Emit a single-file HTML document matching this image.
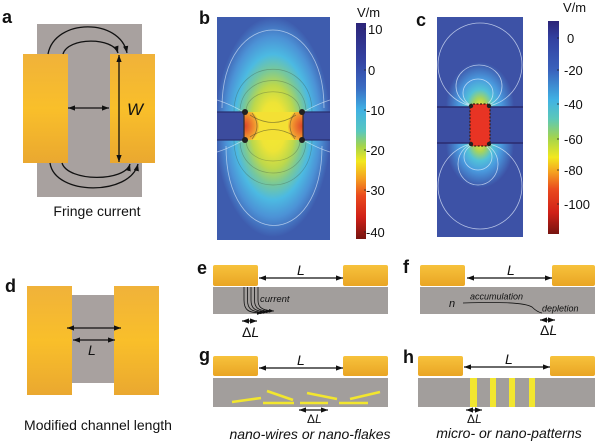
<!DOCTYPE html>
<html>
<head>
<meta charset="utf-8">
<style>
html,body{margin:0;padding:0;background:#fff;}
svg{display:block;}
text{font-family:"Liberation Sans",Arial,sans-serif;}
.lbl{font-weight:bold;font-size:18px;fill:#111;}
.tk{font-size:13px;fill:#111;}
.it{font-style:italic;fill:#111;}
</style>
</head>
<body>
<svg width="600" height="444" viewBox="0 0 600 444" xmlns="http://www.w3.org/2000/svg">
<defs>
  <linearGradient id="gold" x1="0" y1="0" x2="0" y2="1">
    <stop offset="0" stop-color="#f0b23a"/>
    <stop offset="0.5" stop-color="#f9bf2a"/>
    <stop offset="1" stop-color="#eaa830"/>
  </linearGradient>
  <linearGradient id="goldS" x1="0" y1="0" x2="0" y2="1">
    <stop offset="0" stop-color="#f7c23c"/>
    <stop offset="1" stop-color="#e9a524"/>
  </linearGradient>
  <marker id="ah" viewBox="0 0 8 6" refX="8" refY="3" markerWidth="7" markerHeight="5.5" markerUnits="userSpaceOnUse" orient="auto-start-reverse">
    <path d="M0,0 L8,3 L0,6 z" fill="#111"/>
  </marker>
  <marker id="ahs" viewBox="0 0 8 6" refX="8" refY="3" markerWidth="5" markerHeight="4" markerUnits="userSpaceOnUse" orient="auto">
    <path d="M0,0 L8,3 L0,6 z" fill="#111"/>
  </marker>
  <radialGradient id="fieldB" cx="0.5" cy="0.5" r="0.5">
    <stop offset="0" stop-color="#f6ea30"/>
    <stop offset="0.22" stop-color="#eee436"/>
    <stop offset="0.38" stop-color="#bcd84c"/>
    <stop offset="0.52" stop-color="#78c89a"/>
    <stop offset="0.66" stop-color="#4cbae2"/>
    <stop offset="0.82" stop-color="#4c92d6"/>
    <stop offset="1" stop-color="#3e5cae"/>
  </radialGradient>
  <radialGradient id="edgeB" cx="0.5" cy="0.5" r="0.5">
    <stop offset="0" stop-color="#d8402a"/>
    <stop offset="0.5" stop-color="#ec7a2c"/>
    <stop offset="0.85" stop-color="#f4a832"/>
    <stop offset="1" stop-color="#f4c834"/>
  </radialGradient>
  <radialGradient id="lobeC" cx="0.5" cy="0.5" r="0.5">
    <stop offset="0" stop-color="#f2e03a"/>
    <stop offset="0.18" stop-color="#a8d45a"/>
    <stop offset="0.38" stop-color="#52c2d8"/>
    <stop offset="0.62" stop-color="#4a9ade"/>
    <stop offset="1" stop-color="#3d52a6"/>
  </radialGradient>
  <linearGradient id="cbB" x1="0" y1="0" x2="0" y2="1">
    <stop offset="0" stop-color="#2c2478"/>
    <stop offset="0.18" stop-color="#3444a4"/>
    <stop offset="0.3" stop-color="#3a6cc2"/>
    <stop offset="0.4" stop-color="#40b0e4"/>
    <stop offset="0.5" stop-color="#58c8c0"/>
    <stop offset="0.57" stop-color="#a4d44c"/>
    <stop offset="0.64" stop-color="#f2e81e"/>
    <stop offset="0.72" stop-color="#f5a020"/>
    <stop offset="0.8" stop-color="#ea4a1e"/>
    <stop offset="0.9" stop-color="#d02018"/>
    <stop offset="1" stop-color="#761410"/>
  </linearGradient>
  <linearGradient id="cbC" x1="0" y1="0" x2="0" y2="1">
    <stop offset="0" stop-color="#2c2478"/>
    <stop offset="0.08" stop-color="#3240a0"/>
    <stop offset="0.23" stop-color="#3a62bc"/>
    <stop offset="0.37" stop-color="#40b2e4"/>
    <stop offset="0.46" stop-color="#5cc8b8"/>
    <stop offset="0.55" stop-color="#a4d44c"/>
    <stop offset="0.64" stop-color="#f2e81e"/>
    <stop offset="0.71" stop-color="#f5a020"/>
    <stop offset="0.79" stop-color="#ea4a1e"/>
    <stop offset="0.9" stop-color="#d02018"/>
    <stop offset="1" stop-color="#761410"/>
  </linearGradient>
  <clipPath id="clipB"><rect x="217" y="17" width="113" height="223"/></clipPath>
  <clipPath id="clipBch"><rect x="244" y="112" width="59" height="28"/></clipPath>
  <clipPath id="clipC"><rect x="437" y="17" width="86" height="220"/></clipPath>
  <clipPath id="clipCt"><rect x="437" y="17" width="86" height="90"/></clipPath>
  <clipPath id="clipCb"><rect x="437" y="143" width="86" height="94"/></clipPath>
</defs>

<!-- ============ Panel a ============ -->
<text class="lbl" x="2" y="23">a</text>
<rect x="37" y="24" width="105" height="173" fill="#a8a19f"/>
<rect x="23" y="54" width="45" height="109" fill="url(#gold)"/>
<rect x="110" y="54" width="45" height="109" fill="url(#gold)"/>
<g fill="none" stroke="#111" stroke-width="1.3">
  <path d="M48,54 C55,18 120,18 127,53" marker-end="url(#ah)"/>
  <path d="M63,54 C68,37 113,37 118,53" marker-end="url(#ah)"/>
  <path d="M50,163 C55,196 130,196 138,164" marker-end="url(#ah)"/>
  <path d="M62,163 C68,182 125,182 130,164" marker-end="url(#ah)"/>
  <line x1="68" y1="108" x2="109" y2="108" marker-start="url(#ah)" marker-end="url(#ah)"/>
  <line x1="119" y1="55" x2="119" y2="162" marker-start="url(#ah)" marker-end="url(#ah)"/>
</g>
<text class="it" x="127" y="115" font-size="17">W</text>
<text x="97" y="216" font-size="14" text-anchor="middle" fill="#111">Fringe current</text>

<!-- ============ Panel b ============ -->
<text class="lbl" x="199" y="24">b</text>
<g clip-path="url(#clipB)">
  <rect x="217" y="17" width="113" height="223" fill="#3e5cae"/>
  <ellipse cx="273" cy="127" rx="58" ry="110" fill="url(#fieldB)"/>
  <g fill="none" stroke="rgba(60,80,60,0.35)" stroke-width="0.7">
    <path d="M240,112 C240,70 306,70 306,112"/>
    <path d="M234,112 C234,55 312,55 312,112"/>
    <path d="M246,112 C246,85 300,85 300,112"/>
    <path d="M240,140 C240,184 306,184 306,140"/>
    <path d="M234,140 C234,200 312,200 312,140"/>
    <path d="M246,140 C246,168 300,168 300,140"/>
  </g>
  <g fill="none" stroke="rgba(235,245,255,0.6)" stroke-width="0.8">
    <path d="M222,108 C222,4 324,4 324,108"/>
    <path d="M226,146 C226,252 322,252 322,146"/>
    <path d="M217,100 C230,104 236,108 244,112"/>
    <path d="M330,100 C317,104 311,108 303,112"/>
    <path d="M217,152 C230,148 236,144 244,140"/>
    <path d="M330,152 C317,148 311,144 303,140"/>
  </g>
  <rect x="217" y="112" width="27" height="28" fill="#3c4c9e"/>
  <rect x="303" y="112" width="27" height="28" fill="#3c4c9e"/>
  <line x1="217" y1="112" x2="244" y2="112" stroke="#2a3070" stroke-width="1.2"/>
  <line x1="217" y1="140" x2="244" y2="140" stroke="#2a3070" stroke-width="1.2"/>
  <line x1="303" y1="112" x2="330" y2="112" stroke="#2a3070" stroke-width="1.2"/>
  <line x1="303" y1="140" x2="330" y2="140" stroke="#2a3070" stroke-width="1.2"/>
  <g clip-path="url(#clipBch)">
    <rect x="244" y="112" width="59" height="28" fill="#f4e034"/>
    <ellipse cx="244" cy="126" rx="15" ry="17" fill="url(#edgeB)"/>
    <ellipse cx="303" cy="126" rx="15" ry="17" fill="url(#edgeB)"/>
  </g>
  <g fill="none" stroke="rgba(70,70,40,0.55)" stroke-width="0.8">
    <path d="M250,115 Q273,130 296,115"/>
    <path d="M250,137 Q273,122 296,137"/>
    <path d="M252,113 Q262,126 252,139"/>
    <path d="M295,113 Q285,126 295,139"/>
  </g>
  <line x1="244" y1="112" x2="244" y2="140" stroke="#3a2a20" stroke-width="1.2"/>
  <line x1="303" y1="112" x2="303" y2="140" stroke="#3a2a20" stroke-width="1.2"/>
  <g fill="#222">
    <circle cx="245" cy="112" r="3"/><circle cx="245" cy="140" r="3"/>
    <circle cx="302" cy="112" r="3"/><circle cx="302" cy="140" r="3"/>
  </g>
</g>
<text x="357" y="17" font-size="13" fill="#111">V/m</text>
<rect x="356" y="23" width="10" height="216" fill="url(#cbB)"/>
<g stroke="#222" stroke-width="0.8">
  <line x1="364" y1="29" x2="366" y2="29"/><line x1="364" y1="70" x2="366" y2="70"/>
  <line x1="364" y1="110" x2="366" y2="110"/><line x1="364" y1="150" x2="366" y2="150"/>
  <line x1="364" y1="190" x2="366" y2="190"/><line x1="364" y1="232" x2="366" y2="232"/>
</g>
<g class="tk">
  <text x="368" y="34">10</text>
  <text x="368" y="75">0</text>
  <text x="366" y="115">-10</text>
  <text x="366" y="155">-20</text>
  <text x="366" y="195">-30</text>
  <text x="366" y="237">-40</text>
</g>

<!-- ============ Panel c ============ -->
<text class="lbl" x="416" y="26">c</text>
<g clip-path="url(#clipC)">
  <rect x="437" y="17" width="86" height="220" fill="#3d52a6"/>
  <g clip-path="url(#clipCt)">
    <ellipse cx="480" cy="106" rx="34" ry="44" fill="url(#lobeC)"/>
  </g>
  <g clip-path="url(#clipCb)">
    <ellipse cx="480" cy="144" rx="34" ry="44" fill="url(#lobeC)"/>
  </g>
  <rect x="437" y="107" width="86" height="36" fill="#3c4ea2"/>
  <line x1="437" y1="107" x2="523" y2="107" stroke="#2a2a6e" stroke-width="1.5"/>
  <line x1="437" y1="143" x2="523" y2="143" stroke="#2a2a6e" stroke-width="1.5"/>
  <g fill="none" stroke="rgba(230,240,255,0.7)" stroke-width="0.8">
    <ellipse cx="480" cy="65" rx="42" ry="42"/>
    <ellipse cx="479" cy="86" rx="23" ry="21"/>
    <ellipse cx="478" cy="93" rx="15" ry="14"/>
    <ellipse cx="480" cy="186" rx="42" ry="43"/>
    <ellipse cx="478" cy="164" rx="20" ry="21"/>
    <ellipse cx="478" cy="157" rx="14" ry="13"/>
  </g>
  <rect x="470" y="104" width="20" height="42" rx="3" fill="#e83424" stroke="#3a1a14" stroke-width="1.2" stroke-dasharray="2 1.5"/>
  <g fill="#222">
    <circle cx="471" cy="106" r="2.2"/><circle cx="489" cy="106" r="2.2"/>
    <circle cx="471" cy="144" r="2.2"/><circle cx="489" cy="144" r="2.2"/>
  </g>
</g>
<text x="563" y="12" font-size="13" fill="#111">V/m</text>
<rect x="548" y="21" width="11" height="213" fill="url(#cbC)"/>
<g stroke="#222" stroke-width="0.8">
  <line x1="557" y1="38" x2="559" y2="38"/><line x1="557" y1="70" x2="559" y2="70"/>
  <line x1="557" y1="104" x2="559" y2="104"/><line x1="557" y1="139" x2="559" y2="139"/>
  <line x1="557" y1="170" x2="559" y2="170"/><line x1="557" y1="204" x2="559" y2="204"/>
</g>
<g class="tk">
  <text x="567" y="43">0</text>
  <text x="564" y="75">-20</text>
  <text x="564" y="109">-40</text>
  <text x="564" y="144">-60</text>
  <text x="564" y="175">-80</text>
  <text x="564" y="209">-100</text>
</g>

<!-- ============ Panel d ============ -->
<text class="lbl" x="5" y="292">d</text>
<rect x="72" y="295" width="42" height="88" fill="#a8a19f"/>
<rect x="27" y="286" width="45" height="109" fill="url(#gold)"/>
<rect x="114" y="286" width="45" height="109" fill="url(#gold)"/>
<g fill="none" stroke="#111" stroke-width="1.3">
  <line x1="67" y1="328" x2="121" y2="328" marker-start="url(#ah)" marker-end="url(#ah)"/>
  <line x1="73" y1="340" x2="115" y2="340" marker-start="url(#ah)" marker-end="url(#ah)"/>
</g>
<text class="it" x="88" y="355" font-size="14">L</text>
<text x="98" y="430" font-size="14" text-anchor="middle" fill="#111">Modified channel length</text>

<!-- ============ Panel e ============ -->
<text class="lbl" x="197" y="274">e</text>
<rect x="213" y="265" width="45" height="21" rx="2" fill="url(#goldS)"/>
<rect x="343" y="265" width="45" height="21" rx="2" fill="url(#goldS)"/>
<rect x="213" y="287" width="175" height="27" fill="#a29e9c"/>
<line x1="259" y1="278" x2="343" y2="278" stroke="#111" stroke-width="1.2" marker-start="url(#ah)" marker-end="url(#ah)"/>
<text class="it" x="297" y="275" font-size="14">L</text>
<g fill="none" stroke="#111" stroke-width="0.8">
  <path d="M244,287 V300 C244,310 248,313 262,313" marker-end="url(#ahs)"/>
  <path d="M247.5,287 V300 C247.5,309 251,312 265,312.5" marker-end="url(#ahs)"/>
  <path d="M251,287 V300 C251,308 254,311.5 268,312" marker-end="url(#ahs)"/>
  <path d="M254.5,287 V300 C254.5,307 257,311 271,311.5" marker-end="url(#ahs)"/>
  <path d="M258,287 V300 C258,306 260,310.5 274,311" marker-end="url(#ahs)"/>
</g>
<text class="it" x="260" y="302" font-size="9.5">current</text>
<line x1="242" y1="321" x2="257" y2="321" stroke="#111" stroke-width="1.2" marker-start="url(#ah)" marker-end="url(#ah)"/>
<text x="242" y="337" font-size="14" fill="#111">Δ<tspan font-style="italic">L</tspan></text>

<!-- ============ Panel f ============ -->
<text class="lbl" x="403" y="273">f</text>
<rect x="420" y="265" width="45" height="21" rx="2" fill="url(#goldS)"/>
<rect x="552" y="265" width="43" height="21" rx="2" fill="url(#goldS)"/>
<rect x="420" y="287" width="175" height="27" fill="#a29e9c"/>
<line x1="467" y1="278" x2="552" y2="278" stroke="#111" stroke-width="1.2" marker-start="url(#ah)" marker-end="url(#ah)"/>
<text class="it" x="507" y="275" font-size="14">L</text>
<text class="it" x="449" y="307" font-size="11">n</text>
<path d="M463,303 C495,302 524,302 532,307 Q537,312 542,313" fill="none" stroke="#111" stroke-width="0.8"/>
<text class="it" x="470" y="299.5" font-size="9">accumulation</text>
<text class="it" x="542" y="311.5" font-size="9">depletion</text>
<line x1="540" y1="320" x2="555" y2="320" stroke="#111" stroke-width="1.2" marker-start="url(#ah)" marker-end="url(#ah)"/>
<text x="540" y="335" font-size="14" fill="#111">Δ<tspan font-style="italic">L</tspan></text>

<!-- ============ Panel g ============ -->
<text class="lbl" x="199" y="361">g</text>
<rect x="213" y="356" width="45" height="20" rx="2" fill="url(#goldS)"/>
<rect x="343" y="356" width="45" height="20" rx="2" fill="url(#goldS)"/>
<rect x="213" y="378" width="175" height="29" fill="#a29e9c"/>
<line x1="259" y1="368" x2="343" y2="368" stroke="#111" stroke-width="1.2" marker-start="url(#ah)" marker-end="url(#ah)"/>
<text class="it" x="297" y="365" font-size="14">L</text>
<g stroke="#f2e62e" stroke-width="2.6" stroke-linecap="butt">
  <line x1="232" y1="402" x2="261" y2="398"/>
  <line x1="267" y1="391" x2="293" y2="400"/>
  <line x1="263" y1="403" x2="294" y2="403"/>
  <line x1="300" y1="403" x2="328" y2="403"/>
  <line x1="307" y1="393" x2="337" y2="399"/>
  <line x1="339" y1="403" x2="368" y2="403"/>
  <line x1="350" y1="399" x2="380" y2="392"/>
</g>
<line x1="299" y1="410" x2="328" y2="410" stroke="#111" stroke-width="1.2" marker-start="url(#ah)" marker-end="url(#ah)"/>
<text x="307" y="423" font-size="12" fill="#111">Δ<tspan font-style="italic">L</tspan></text>
<text class="it" x="310" y="439" font-size="14" text-anchor="middle">nano-wires or nano-flakes</text>

<!-- ============ Panel h ============ -->
<text class="lbl" x="403" y="363">h</text>
<rect x="418" y="356" width="45" height="20" rx="2" fill="url(#goldS)"/>
<rect x="550" y="356" width="45" height="20" rx="2" fill="url(#goldS)"/>
<rect x="418" y="378" width="177" height="29" fill="#a29e9c"/>
<line x1="464" y1="367" x2="550" y2="367" stroke="#111" stroke-width="1.2" marker-start="url(#ah)" marker-end="url(#ah)"/>
<text class="it" x="505" y="364" font-size="14">L</text>
<g fill="#f2e62e">
  <rect x="470" y="378" width="7" height="29"/>
  <rect x="490" y="378" width="6" height="29"/>
  <rect x="509" y="378" width="6" height="29"/>
  <rect x="529" y="378" width="6" height="29"/>
</g>
<line x1="466" y1="410" x2="482" y2="410" stroke="#111" stroke-width="1.2" marker-start="url(#ah)" marker-end="url(#ah)"/>
<text x="467" y="423" font-size="12" fill="#111">Δ<tspan font-style="italic">L</tspan></text>
<text class="it" x="509" y="438" font-size="14" text-anchor="middle">micro- or nano-patterns</text>
</svg>
</body>
</html>
